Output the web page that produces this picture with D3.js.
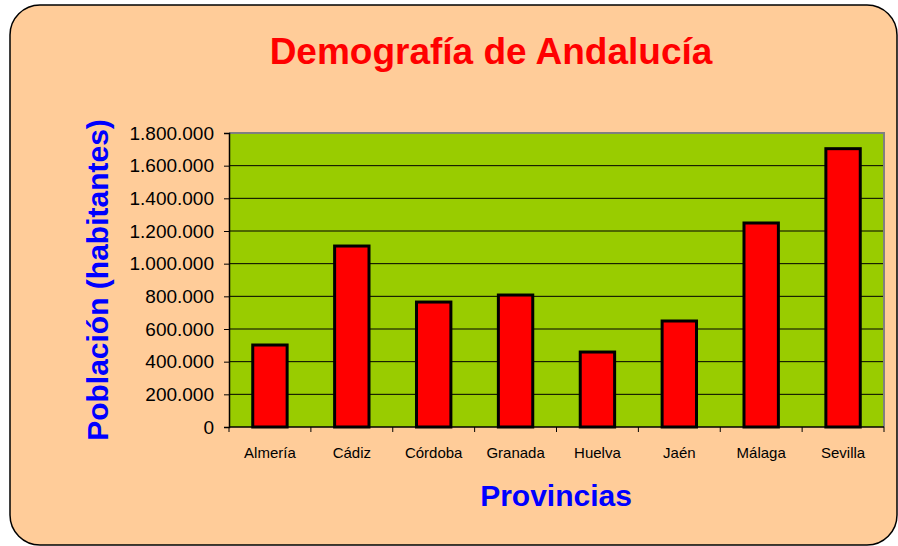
<!DOCTYPE html>
<html><head><meta charset="utf-8">
<script src="https://cdn.jsdelivr.net/npm/d3@7"></script>
<style>body{margin:0;background:#fff}svg{display:block}</style>
</head><body>
<script>
const categories = ["Almería","Cádiz","Córdoba","Granada","Huelva","Jaén","Málaga","Sevilla"];
const population = [502000, 1108000, 765000, 808000, 459000, 649000, 1249000, 1704000];
const yTicks = [0,200000,400000,600000,800000,1000000,1200000,1400000,1600000,1800000];
const title = "Demografía de Andalucía";
const yTitle = "Población (habitantes)";
const xTitle = "Provincias";

const W = 898, H = 546;
const svg = d3.select("body").append("svg").attr("width", W).attr("height", H);
svg.append("rect").attr("x",10).attr("y",5).attr("width",887).attr("height",540)
  .attr("rx",30).attr("ry",30).attr("fill","#FFCC99").attr("stroke","#000").attr("stroke-width",1.5);

const L = 229, R = 884, T = 133, B = 427;
const x = d3.scaleBand().domain(categories).range([L,R]).paddingInner(0.58).paddingOuter(0.29);
const y = d3.scaleLinear().domain([0,1800000]).range([B,T]);
const fmt = d3.formatLocale({decimal:",",thousands:".",grouping:[3],currency:["",""]}).format(",d");

svg.append("rect").attr("x",L).attr("y",T).attr("width",R-L).attr("height",B-T).attr("fill","#99CC00");
svg.append("g").selectAll("line").data(yTicks.slice(1)).join("line")
  .attr("x1",L).attr("x2",R).attr("y1",d=>y(d)).attr("y2",d=>y(d)).attr("stroke","#000").attr("stroke-width",1);
svg.append("path").attr("d",`M${L},${T}H${R}V${B}`).attr("fill","none").attr("stroke","#808080").attr("stroke-width",2);

svg.append("g").selectAll("rect").data(categories).join("rect")
  .attr("x",d=>x(d)).attr("width",x.bandwidth())
  .attr("y",(d,i)=>y(population[i])).attr("height",(d,i)=>B-y(population[i]))
  .attr("fill","#FF0000").attr("stroke","#000").attr("stroke-width",3);

const yAxis = svg.append("g").attr("transform",`translate(${L},0)`)
  .call(d3.axisLeft(y).tickValues(yTicks).tickFormat(fmt).tickSize(5).tickPadding(10));
yAxis.select(".domain").attr("stroke","#000").attr("stroke-width",1.5);
yAxis.selectAll("text").attr("font-family","Liberation Sans, Arial, sans-serif").attr("font-size",19).attr("fill","#000");

const xb = d3.scaleLinear().domain([0,categories.length]).range([L,R]);
const xAxis = svg.append("g").attr("transform",`translate(0,${B})`);
xAxis.append("line").attr("x1",L).attr("x2",R).attr("stroke","#000").attr("stroke-width",1.5);
xAxis.selectAll("line.tk").data(d3.range(categories.length+1)).join("line").attr("class","tk")
  .attr("x1",d=>xb(d)).attr("x2",d=>xb(d)).attr("y1",0).attr("y2",5).attr("stroke","#000");
xAxis.selectAll("text").data(categories).join("text")
  .attr("x",d=>x(d)+x.bandwidth()/2).attr("y",31).attr("text-anchor","middle")
  .attr("font-family","Liberation Sans, Arial, sans-serif").attr("font-size",15).attr("fill","#000").text(d=>d);

svg.append("text").attr("x",491).attr("y",64).attr("text-anchor","middle")
  .attr("font-family","Liberation Sans, Arial, sans-serif").attr("font-weight","bold").attr("font-size",37)
  .attr("fill","#FF0000").text(title);
svg.append("text").attr("transform","translate(108,280) rotate(-90)").attr("text-anchor","middle")
  .attr("font-family","Liberation Sans, Arial, sans-serif").attr("font-weight","bold").attr("font-size",30)
  .attr("fill","#0000FF").text(yTitle);
svg.append("text").attr("x",556).attr("y",506).attr("text-anchor","middle")
  .attr("font-family","Liberation Sans, Arial, sans-serif").attr("font-weight","bold").attr("font-size",30)
  .attr("fill","#0000FF").text(xTitle);
</script>
</body></html>
